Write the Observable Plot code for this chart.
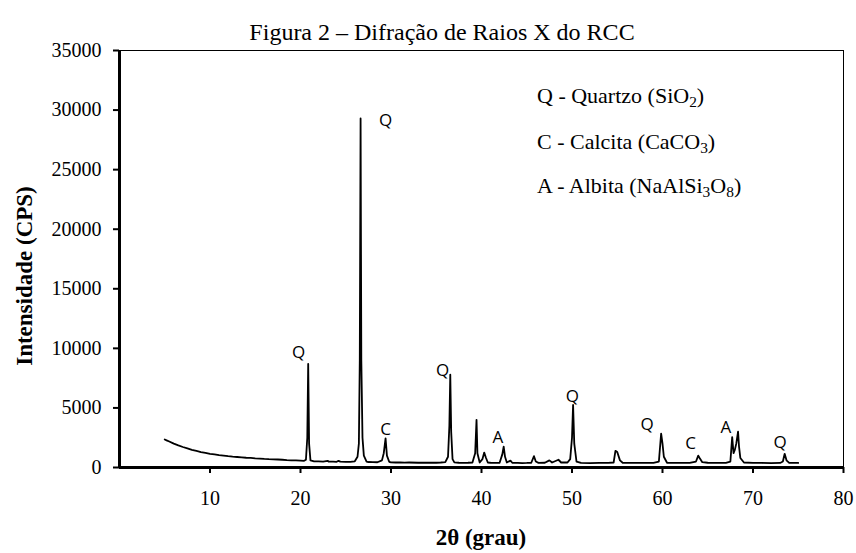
<!DOCTYPE html>
<html><head><meta charset="utf-8">
<script src="https://cdn.jsdelivr.net/npm/d3@7"></script>
<script src="https://cdn.jsdelivr.net/npm/@observablehq/plot@0.6"></script>
<style>
body{margin:0;background:#fff;}
#wrap{position:relative;width:856px;height:553px;overflow:hidden;font-family:"Liberation Serif","Times New Roman",serif;color:#000;background:#fff;}
#chart{position:absolute;left:0;top:0;}
.ov{position:absolute;white-space:nowrap;line-height:1;}
sub{font-size:0.7em;vertical-align:-0.25em;line-height:0;}
</style></head><body><div id="wrap"><div id="chart"></div></div>
<script>
const chartTitle = "Figura 2 – Difração de Raios X do RCC";
const xTitle = "2θ (grau)";
const yTitle = "Intensidade (CPS)";

const twoTheta = [5.0,5.2,5.5,6.0,6.5,7.0,7.5,8.0,8.5,9.0,9.5,10.0,10.5,11.0,11.5,12.0,12.5,13.0,13.5,14.0,14.5,15.0,15.5,16.0,16.5,17.0,17.5,18.0,18.5,19.0,19.5,20.0,20.4,20.6,20.75,20.85,20.95,21.1,21.5,22.0,22.5,23.0,23.1,23.6,24.0,24.2,24.4,25.0,25.5,26.0,26.3,26.45,26.55,26.64,26.72,26.85,27.0,27.3,27.5,28.0,28.5,29.0,29.2,29.4,29.55,29.8,30.0,30.5,31.0,31.5,32.0,33.0,34.0,35.0,35.5,36.0,36.3,36.45,36.55,36.65,36.8,37.0,37.5,38.0,38.5,39.0,39.3,39.45,39.55,39.8,40.1,40.3,40.5,40.7,41.0,41.5,42.0,42.3,42.45,42.6,42.8,43.2,43.4,44.0,44.5,45.0,45.5,45.8,46.0,46.3,47.0,47.5,47.8,48.5,48.8,49.5,49.8,50.0,50.12,50.25,50.5,51.0,52.0,53.0,54.0,54.6,54.8,55.0,55.3,55.6,56.0,57.0,58.0,59.0,59.6,59.85,60.0,60.15,60.5,61.0,62.0,63.0,63.7,63.95,64.1,64.4,65.0,66.0,67.0,67.5,67.7,67.85,68.0,68.15,68.35,68.45,68.6,69.0,70.0,71.0,72.0,73.0,73.3,73.5,73.7,74.0,75.0];
const cps = [2350,2280,2180,2000,1850,1720,1600,1480,1400,1300,1230,1150,1100,1040,1000,950,910,880,850,820,800,770,750,720,700,690,670,650,620,600,590,570,560,650,2500,8700,2000,600,520,510,500,560,500,490,480,560,490,470,480,520,900,2000,9000,29300,9000,2500,1000,500,460,450,440,600,1200,2450,1000,480,430,420,420,410,420,400,410,400,420,450,900,3500,7800,3000,700,430,400,390,400,420,1200,4000,1200,420,700,1250,800,420,400,390,400,1100,1750,900,420,580,400,380,370,380,400,950,500,390,400,600,420,650,420,420,700,2500,5250,2000,500,380,370,390,380,420,1400,1300,600,400,380,390,380,390,500,2850,2000,900,400,380,380,380,500,1000,800,450,400,380,390,500,2550,1200,1500,2000,3000,1800,800,420,380,380,370,380,500,1150,600,390,380];

const peakLabel = ["Q","Q","C","Q","A","Q","Q","C","A","Q"];
const peakLabelX = [19.8,29.4,29.4,35.7,41.8,50.05,58.3,63.1,67.0,73.0];
const peakLabelY = [9650,29100,3150,8140,2520,5960,3580,1990,3380,2120];

const xTicks = [10,20,30,40,50,60,70,80];
const yTicks = [0,5000,10000,15000,20000,25000,30000,35000];

const legendCode = ["Q","C","A"];
const legendName = ["Quartzo","Calcita","Albita"];
const legendFormula = ["SiO_2","CaCO_3","NaAlSi_3O_8"];

const data = twoTheta.map((x, i) => ({x, y: cps[i]}));
const labels = peakLabel.map((t, i) => ({t, x: peakLabelX[i], y: peakLabelY[i]}));

const plot = Plot.plot({
  width: 856, height: 553,
  marginLeft: 119, marginRight: 13, marginTop: 50, marginBottom: 86,
  x: {domain: [0, 80]},
  y: {domain: [0, 35000]},
  style: {fontFamily: "'Liberation Serif', 'Times New Roman', serif", fontSize: "20px", color: "#000", background: "#fff", overflow: "visible"},
  marks: [
    Plot.frame({stroke: "#000", strokeWidth: 1}),
    Plot.line(data, {x: "x", y: "y", stroke: "#000", strokeWidth: 1.8}),
    Plot.text(labels, {x: "x", y: "y", text: "t", fontFamily: "'Open Sans', sans-serif", fontSize: 17}),
    Plot.axisX(xTicks, {tickSize: 6, tickPadding: 17, strokeWidth: 2, label: null, tickFormat: "d"}),
    Plot.axisY(yTicks, {tickSize: 6, tickPadding: 12, strokeWidth: 2, label: null, tickFormat: "d"}),
    Plot.ruleX([0], {stroke: "#000", strokeWidth: 3}),
    Plot.ruleY([0], {stroke: "#000", strokeWidth: 3}),
    Plot.text([yTitle], {frameAnchor: "left", textAnchor: "middle", rotate: -90, dx: -95, dy: 17, fontWeight: "bold", fontSize: 23})
  ]
});
const wrap = document.getElementById("wrap");
document.getElementById("chart").appendChild(plot);

function addOv(html, left, top, css) {
  const d = document.createElement("div");
  d.className = "ov";
  d.innerHTML = html;
  d.style.left = left + "px";
  d.style.top = top + "px";
  Object.assign(d.style, css || {});
  wrap.appendChild(d);
  return d;
}
addOv(chartTitle, 0, 20, {width: "884px", textAlign: "center", fontSize: "24px"});
addOv(xTitle, 0, 526, {width: "962px", textAlign: "center", fontSize: "23px", fontWeight: "bold"});
const legTops = [85, 131, 175];
legendCode.forEach((c, i) => {
  const f = legendFormula[i].replace(/_(\d)/g, "<sub>$1</sub>");
  addOv(`${c} - ${legendName[i]} (${f})`, 537, legTops[i], {fontSize: "22px"});
});
</script></body></html>
